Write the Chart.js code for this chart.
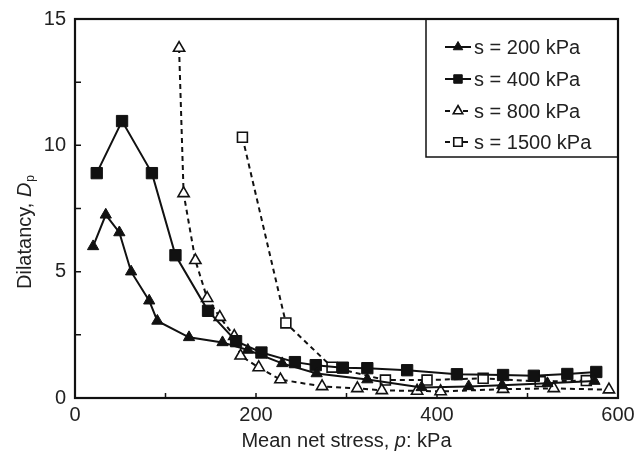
<!DOCTYPE html>
<html>
<head>
<meta charset="utf-8">
<script src="https://cdn.jsdelivr.net/npm/chart.js@4.4.0/dist/chart.umd.min.js"></script>
<style>
  html, body { margin: 0; padding: 0; background: #ffffff; }
  #wrap { width: 639px; height: 459px; }
</style>
</head>
<body>
<div id="wrap"><canvas id="c" width="639" height="459"></canvas></div>
<script>
// Mean net stress p (kPa) and dilatancy Dp for each suction level
const p200  = [20, 34, 49, 62, 82, 91, 126, 163, 191, 229, 267, 323, 383, 435, 472, 522, 574];
const d200  = [6.0, 7.25, 6.55, 5.0, 3.85, 3.05, 2.4, 2.2, 1.9, 1.37, 0.97, 0.73, 0.42, 0.46, 0.5, 0.58, 0.67];

const p400  = [24, 52, 85, 111, 147, 178, 206, 243, 266, 296, 323, 367, 422, 473, 507, 544, 576];
const d400  = [8.9, 10.96, 8.9, 5.65, 3.45, 2.25, 1.8, 1.42, 1.3, 1.2, 1.18, 1.1, 0.94, 0.91, 0.88, 0.95, 1.03];

const p800  = [115, 120, 133, 146, 160, 176, 183, 203, 227, 273, 312, 339, 378, 404, 473, 529, 590];
const d800  = [13.85, 8.1, 5.45, 3.95, 3.2, 2.45, 1.67, 1.21, 0.73, 0.46, 0.38, 0.3, 0.28, 0.26, 0.35, 0.38, 0.33];

const p1500 = [185, 233, 284, 343, 389, 451, 514, 565];
const d1500 = [10.32, 2.97, 1.22, 0.71, 0.71, 0.78, 0.65, 0.69];

const seriesLabels = ['s = 200 kPa', 's = 400 kPa', 's = 800 kPa', 's = 1500 kPa'];
const xTickLabels = [0, 200, 400, 600];
const yTickLabels = [0, 5, 10, 15];

const INK = '#111111';
const TEXT = '#222222';
const FONT = "'Liberation Sans', Arial, Helvetica, sans-serif";

function pairs(xs, ys) { return xs.map((x, i) => ({ x: x, y: ys[i] })); }

function series(label, xs, ys, style, filled, dashed, radius) {
  return {
    label: label,
    data: pairs(xs, ys),
    borderColor: INK,
    borderWidth: 2,
    borderDash: dashed ? [5, 4] : [],
    pointStyle: style,
    pointRadius: radius,
    pointHoverRadius: radius,
    pointBackgroundColor: filled ? INK : '#ffffff',
    pointBorderColor: INK,
    pointBorderWidth: filled ? 1 : 1.6,
    tension: 0,
    fill: false
  };
}

const datasets = [
  series(seriesLabels[0], p200, d200, 'triangle', true, false, 6.5),
  series(seriesLabels[1], p400, d400, 'rect', true, false, 8),
  series(seriesLabels[2], p800, d800, 'triangle', false, true, 6.5),
  series(seriesLabels[3], p1500, d1500, 'rect', false, true, 7)
];

// Frame, inward ticks, axis titles and the legend box
const decor = {
  id: 'decor',
  beforeDatasetsDraw(chart) {
    const { ctx, chartArea: a, scales: { x, y } } = chart;
    ctx.save();
    ctx.strokeStyle = INK;
    ctx.lineWidth = 2.2;
    ctx.strokeRect(a.left, a.top, a.right - a.left, a.bottom - a.top);
    ctx.lineWidth = 1.5;
    ctx.beginPath();
    for (let v = 100; v < 600; v += 100) {
      const px = x.getPixelForValue(v);
      ctx.moveTo(px, a.bottom); ctx.lineTo(px, a.bottom - 5);
    }
    for (let v = 2.5; v < 15; v += 2.5) {
      const py = y.getPixelForValue(v);
      ctx.moveTo(a.left, py); ctx.lineTo(a.left + 6, py);
    }
    ctx.stroke();
    ctx.restore();
  },
  afterDraw(chart) {
    const { ctx, chartArea: a } = chart;
    ctx.save();
    ctx.fillStyle = TEXT;
    ctx.textBaseline = 'middle';

    // x title: Mean net stress, p: kPa
    const reg = '20px ' + FONT, ita = 'italic 20px ' + FONT;
    const xParts = [['Mean net stress, ', reg], ['p', ita], [': kPa', reg]];
    let w = 0;
    xParts.forEach(t => { ctx.font = t[1]; w += ctx.measureText(t[0]).width; });
    let cx = (a.left + a.right) / 2 - w / 2;
    ctx.textAlign = 'left';
    xParts.forEach(t => { ctx.font = t[1]; ctx.fillText(t[0], cx, 441); cx += ctx.measureText(t[0]).width; });

    // y title: Dilatancy, Dp
    ctx.translate(25, 232);
    ctx.rotate(-Math.PI / 2);
    const sub = '12px ' + FONT;
    const yParts = [['Dilatancy, ', reg, 0], ['D', ita, 0], ['p', sub, 6]];
    w = 0;
    yParts.forEach(t => { ctx.font = t[1]; w += ctx.measureText(t[0]).width + (t[2] ? 1 : 0); });
    cx = -w / 2;
    yParts.forEach(t => { ctx.font = t[1]; if (t[2]) cx += 1; ctx.fillText(t[0], cx, t[2]); cx += ctx.measureText(t[0]).width; });
    ctx.setTransform(1, 0, 0, 1, 0, 0);

    // legend
    ctx.strokeStyle = INK;
    ctx.lineWidth = 1.5;
    ctx.strokeRect(426, a.top, a.right - 426, 157 - a.top);
    const rows = [47, 79, 111, 142];
    chart.data.datasets.forEach((ds, i) => {
      const yy = rows[i];
      ctx.save();
      ctx.strokeStyle = INK;
      ctx.lineWidth = 2;
      ctx.setLineDash(ds.borderDash);
      ctx.beginPath();
      ctx.moveTo(445, yy); ctx.lineTo(471, yy);
      ctx.stroke();
      ctx.restore();
      ctx.save();
      ctx.fillStyle = ds.pointBackgroundColor;
      ctx.strokeStyle = INK;
      ctx.lineWidth = ds.pointBorderWidth;
      Chart.helpers.drawPoint(ctx, { pointStyle: ds.pointStyle, radius: ds.pointStyle === 'rect' ? 6 : 5.5, rotation: 0, borderWidth: ds.pointBorderWidth }, 458, yy);
      ctx.restore();
      ctx.font = reg;
      ctx.fillStyle = TEXT;
      ctx.textAlign = 'left';
      ctx.fillText(ds.label, 474, yy + 1);
    });
    ctx.restore();
  }
};

new Chart(document.getElementById('c'), {
  type: 'line',
  data: { datasets: datasets },
  options: {
    responsive: false,
    animation: false,
    devicePixelRatio: 1,
    layout: { padding: { top: 19, right: 21, left: 0, bottom: 0 } },
    plugins: { legend: { display: false }, tooltip: { enabled: false } },
    scales: {
      x: {
        type: 'linear',
        min: 0, max: 600,
        afterBuildTicks: s => { s.ticks = xTickLabels.map(v => ({ value: v })); },
        afterFit: s => { s.height = 61; s.paddingLeft = 0; s.paddingRight = 0; },
        grid: { display: false, drawTicks: false },
        border: { display: false },
        ticks: { color: TEXT, font: { family: FONT, size: 20 }, padding: 5, maxRotation: 0 }
      },
      y: {
        min: 0, max: 15,
        afterBuildTicks: s => { s.ticks = yTickLabels.map(v => ({ value: v })); },
        afterFit: s => { s.width = 75; s.paddingTop = 0; s.paddingBottom = 0; },
        grid: { display: false, drawTicks: false },
        border: { display: false },
        ticks: { color: TEXT, font: { family: FONT, size: 20 }, padding: 9 }
      }
    }
  },
  plugins: [decor]
});
</script>
</body>
</html>
